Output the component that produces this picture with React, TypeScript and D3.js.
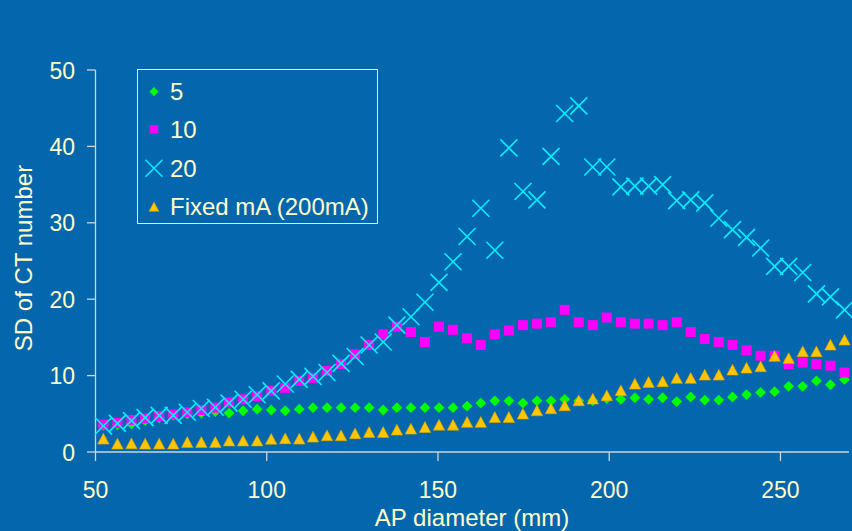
import React from 'react';
import * as d3 from 'd3';

// AP diameter (mm) of each measured phantom section
const apDiameter = [
  52.3, 56.4, 60.5, 64.5, 68.6, 72.7, 76.8, 80.9, 85.0, 89.0,
  93.1, 97.2, 101.3, 105.4, 109.5, 113.5, 117.6, 121.7, 125.8, 129.9,
  134.0, 138.0, 142.1, 146.2, 150.3, 154.4, 158.5, 162.5, 166.6, 170.7,
  174.8, 178.9, 183.0, 187.0, 191.1, 195.2, 199.3, 203.4, 207.5, 211.5,
  215.6, 219.7, 223.8, 227.9, 232.0, 236.0, 240.1, 244.2, 248.3, 252.4,
  256.5, 260.5, 264.6, 268.7,
];

// SD of CT number, noise index 5
const sd5 = [
  3.5, 3.6, 3.7, 4.1, 4.5, 4.8, 5.0, 5.1, 5.3, 5.1,
  5.4, 5.6, 5.5, 5.4, 5.6, 5.8, 5.8, 5.8, 5.8, 5.8,
  5.5, 5.8, 5.8, 5.8, 5.8, 5.8, 6.0, 6.4, 6.7, 6.7,
  6.4, 6.7, 6.7, 6.9, 6.7, 6.7, 7.0, 6.9, 7.1, 6.9,
  7.1, 6.6, 7.2, 6.8, 6.8, 7.2, 7.5, 7.8, 7.9, 8.6,
  8.6, 9.3, 8.8, 9.5,
];

// SD of CT number, noise index 10
const sd10 = [
  3.6, 3.8, 4.2, 4.4, 4.7, 4.9, 5.2, 5.5, 5.8, 6.5,
  6.9, 7.3, 8.0, 8.4, 9.3, 9.7, 10.6, 11.5, 12.8, 14.0,
  15.4, 16.4, 15.7, 14.4, 16.4, 16.0, 14.9, 14.0, 15.4, 15.9,
  16.6, 16.8, 17.0, 18.6, 17.0, 16.6, 17.6, 17.0, 16.8, 16.8,
  16.6, 17.0, 15.7, 14.8, 14.4, 14.0, 13.3, 12.6, 12.6, 11.5,
  11.7, 11.5, 11.3, 10.4,
];

// SD of CT number, noise index 20
const sd20 = [
  3.4, 3.75, 4.1, 4.5, 4.8, 4.8, 5.2, 5.7, 5.85, 6.4,
  6.9, 7.5, 8.0, 8.9, 9.5, 9.9, 10.4, 11.6, 12.5, 14.0,
  14.4, 16.6, 17.7, 19.6, 22.2, 24.9, 28.2, 31.9, 26.4, 39.8,
  34.1, 33.0, 38.7, 44.3, 45.3, 37.3, 37.3, 34.7, 34.8, 34.8,
  35.0, 32.9, 33.0, 32.6, 30.6, 29.1, 28.1, 26.7, 24.3, 24.3,
  23.5, 20.7, 20.3, 18.6,
];

// SD of CT number, fixed tube current
const sdFixed = [
  1.74, 1.09, 1.13, 1.09, 1.1, 1.1, 1.31, 1.31, 1.31, 1.5,
  1.5, 1.5, 1.72, 1.79, 1.74, 2.0, 2.18, 2.18, 2.44, 2.62,
  2.62, 2.92, 3.05, 3.27, 3.57, 3.57, 3.93, 3.93, 4.58, 4.58,
  5.02, 5.45, 5.71, 6.11, 6.76, 6.98, 7.42, 8.07, 8.94, 9.16,
  9.25, 9.69, 9.69, 10.12, 10.12, 10.78, 11.04, 11.21, 12.57, 12.3,
  13.18, 13.18, 14.05, 14.7,
];

const seriesNames = ['5', '10', '20', 'Fixed mA (200mA)'];
const xTicks = [50, 100, 150, 200, 250];
const yTicks = [0, 10, 20, 30, 40, 50];

const W = 852;
const H = 531;
const BG = '#0466AC';
const TEXT = '#FFFFCC';
const AXIS = '#C9D7DE';
const FONT = '"Liberation Sans", Arial, sans-serif';

const x = d3.scaleLinear().domain([50, 270]).range([95.5, 848.95]);
const y = d3.scaleLinear().domain([0, 50]).range([452, 70]);

type Shape = 'diamond' | 'square' | 'cross' | 'triangle';

function Marker({ shape, cx, cy, scale = 1 }: { shape: Shape; cx: number; cy: number; scale?: number }) {
  if (shape === 'diamond') {
    const r = 5.4 * scale;
    return <path d={`M${cx},${cy - r}L${cx + r},${cy}L${cx},${cy + r}L${cx - r},${cy}Z`} fill="#00FF00" />;
  }
  if (shape === 'square') {
    const s = 10 * scale;
    return <rect x={cx - s / 2} y={cy - s / 2} width={s} height={s} fill="#FF00FF" />;
  }
  if (shape === 'triangle') {
    const w = 11.4 * scale;
    const h = 10.8 * scale;
    return (
      <path
        d={`M${cx},${cy - h / 2}L${cx + w / 2},${cy + h / 2}L${cx - w / 2},${cy + h / 2}Z`}
        fill="#FFC600"
        stroke="#D9A400"
        strokeWidth={0.6}
      />
    );
  }
  const r = 8.5 * scale;
  return (
    <g stroke="#00F0FF" strokeWidth={1.6}>
      <line x1={cx - r} y1={cy - r} x2={cx + r} y2={cy + r} />
      <line x1={cx - r} y1={cy + r} x2={cx + r} y2={cy - r} />
    </g>
  );
}

const series: { name: string; values: number[]; shape: Shape }[] = [
  { name: seriesNames[0], values: sd5, shape: 'diamond' },
  { name: seriesNames[1], values: sd10, shape: 'square' },
  { name: seriesNames[2], values: sd20, shape: 'cross' },
  { name: seriesNames[3], values: sdFixed, shape: 'triangle' },
];

export default function App() {
  const legendRows = [91.7, 129.3, 168.3, 206.7];
  const legendScale = [0.85, 0.85, 1, 0.85];
  return (
    <svg
      width={W}
      height={H}
      viewBox={`0 0 ${W} ${H}`}
      style={{ position: 'absolute', left: 0, top: 0, display: 'block' }}
      fontFamily={FONT}
    >
      <rect x={0} y={0} width={W} height={H} fill={BG} />

      {/* axes */}
      <line x1={x(50)} y1={y(50)} x2={x(50)} y2={y(0)} stroke={AXIS} strokeWidth={1.3} />
      <line x1={x(50)} y1={y(0)} x2={x(270)} y2={y(0)} stroke={AXIS} strokeWidth={1.3} />
      {yTicks.map((t) => (
        <g key={`y${t}`}>
          <line x1={x(50) - 8.5} y1={y(t)} x2={x(50)} y2={y(t)} stroke={AXIS} strokeWidth={1.3} />
          <text x={75} y={y(t) + 8.5} textAnchor="end" fontSize={23} fill={TEXT}>
            {t}
          </text>
        </g>
      ))}
      {xTicks.map((t) => (
        <g key={`x${t}`}>
          <line x1={x(t)} y1={y(0)} x2={x(t)} y2={y(0) + 9} stroke={AXIS} strokeWidth={1.3} />
          <text x={x(t)} y={498} textAnchor="middle" fontSize={23} fill={TEXT}>
            {t}
          </text>
        </g>
      ))}
      <text x={472} y={526} textAnchor="middle" fontSize={24} fill={TEXT}>
        AP diameter (mm)
      </text>
      <text transform="translate(32,258) rotate(-90)" textAnchor="middle" fontSize={24} fill={TEXT}>
        SD of CT number
      </text>

      {/* data */}
      {series.map((s) => (
        <g key={s.name}>
          {s.values.map((v, i) => (
            <Marker key={i} shape={s.shape} cx={x(apDiameter[i])} cy={y(v)} />
          ))}
        </g>
      ))}

      {/* legend */}
      <rect x={137.5} y={69.5} width={240} height={154} fill="none" stroke="#E8EEDC" strokeWidth={1} />
      {series.map((s, i) => (
        <g key={`lg${s.name}`}>
          <Marker shape={s.shape} cx={154} cy={legendRows[i]} scale={legendScale[i]} />
          <text x={170} y={legendRows[i] + 8.5} fontSize={24} fill={TEXT}>
            {s.name}
          </text>
        </g>
      ))}
    </svg>
  );
}
